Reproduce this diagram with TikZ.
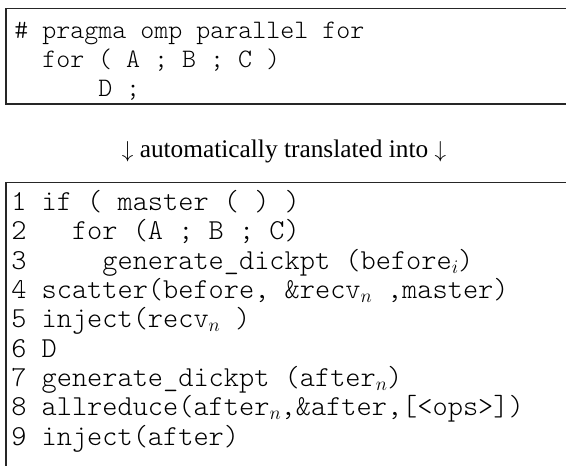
\documentclass[tikz,border=0pt]{standalone}
\usepackage{fontspec}
\setmainfont{Liberation Serif}
\setmonofont{Latin Modern Mono Light}
% small italic subscript used for the per-rank variables
\newcommand\rsub[1]{\raisebox{-0.35ex}{\fontsize{15}{15}\selectfont$#1$}}
\begin{document}
\begin{tikzpicture}[x=0.75pt,y=-0.75pt,
  code/.style={anchor=base west,inner sep=0pt,font=\ttfamily\fontsize{20}{24}\selectfont},
  bigcode/.style={code,font=\ttfamily\fontsize{21.7}{26}\selectfont},
  caption/.style={anchor=base,inner sep=0pt,font=\fontsize{19}{23}\selectfont},
  frame/.style={draw=black!85,line width=1pt}]
\useasboundingbox (0,0) rectangle (566,465);
\clip (0,0) rectangle (566,465);
% source loop, framed on top, left and bottom
\draw[frame] (600,8.5) -- (6,8.5) -- (6,104) -- (600,104);
\node[code] (s1) at (14,38) {\# pragma omp parallel for};
\node[code] (s2) at (14,67) {~~for ( A ; B ; C )};
\node[code] (s3) at (14,96) {~~~~~~D ;};
% caption between the two listings
\node[caption] (cap) at (284,157) {$\downarrow$ automatically translated into $\downarrow$};
% translated listing
\draw[frame] (600,182.5) -- (6,182.5) -- (6,470);
\node[bigcode] (l1) at (11,210) {1 if ( master ( ) )};
\node[bigcode] (l2) at (11,239.5) {2~~~for (A ; B ; C)};
\node[bigcode] (l3) at (11,269) {3~~~~~generate\_dickpt (before\rsub{i})};
\node[bigcode] (l4) at (11,298) {4 scatter(before, \&recv\rsub{n} ,master)};
\node[bigcode] (l5) at (11,327.5) {5 inject(recv\rsub{n} )};
\node[bigcode] (l6) at (11,357) {6 D};
\node[bigcode] (l7) at (11,386) {7 generate\_dickpt (after\rsub{n})};
\node[bigcode] (l8) at (11,415.5) {8 allreduce(after\rsub{n},\&after,[<ops>])};
\node[bigcode] (l9) at (11,445) {9 inject(after)};
\end{tikzpicture}
\end{document}
